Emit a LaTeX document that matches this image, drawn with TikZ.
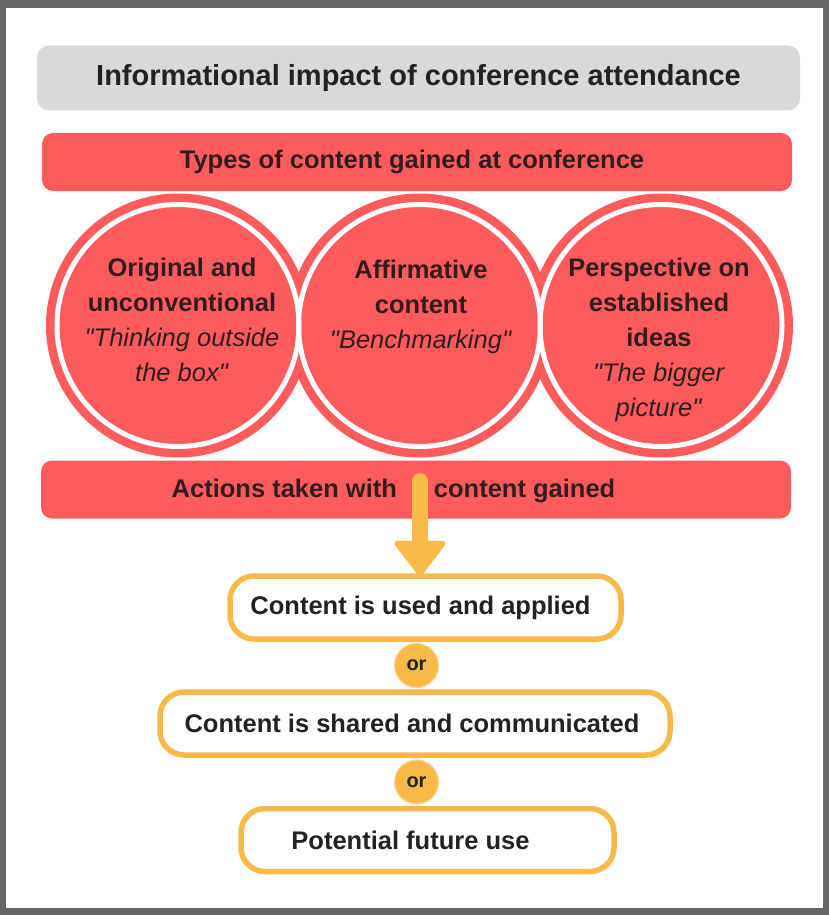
\documentclass[tikz,border=0pt]{standalone}
\usepackage{fontspec}
% keep the straight double quotes
\setmainfont{Liberation Sans}[Ligatures=TeXOff]
\usetikzlibrary{arrows.meta,positioning}
\definecolor{framegray}{RGB}{102,102,102}
\definecolor{titlegray}{RGB}{217,217,217}
\definecolor{mainred}{RGB}{254,92,92}
\definecolor{deepbrown}{RGB}{50,28,28}
\definecolor{softink}{RGB}{34,34,34}
\definecolor{mainamber}{RGB}{249,185,72}
\definecolor{softamber}{RGB}{252,214,150}
\tikzset{
  titlebar/.style={fill=titlegray,rounded corners=12pt,minimum width=763pt,minimum height=65pt,
    inner sep=0pt,text=softink,font=\fontsize{29}{34}\selectfont\bfseries},
  redbar/.style={fill=mainred,rounded corners=11pt,minimum width=750pt,minimum height=58pt,inner sep=0pt},
  bartext/.style={inner sep=0pt,text=deepbrown,font=\fontsize{25.5}{30}\selectfont\bfseries},
  topic/.style={circle,fill=mainred,minimum size=264pt,inner sep=0pt},
  topicring/.style={draw=white,line width=5pt},
  topictext/.style={anchor=north,align=center,inner sep=0pt,text=deepbrown,font=\fontsize{25.5}{35}\selectfont},
  action/.style={draw=mainamber,line width=5.5pt,fill=white,rounded corners=24pt,minimum height=63pt,
    inner sep=0pt,text=softink,font=\fontsize{25.5}{30}\selectfont\bfseries},
  orbadge/.style={circle,fill=mainamber,draw=softamber,line width=1.2pt,minimum size=44pt,inner sep=0pt,
    text=softink,font=\fontsize{20}{24}\selectfont\bfseries},
  flowarrow/.style={-{Triangle[length=37pt,width=55pt,round,line width=5pt]},line width=16pt,
    draw=mainamber,line cap=round}
}

\begin{document}
\begin{tikzpicture}[x=1pt,y=-1pt]
  % frame
  \fill[framegray] (0,0) rectangle (829,915);
  \fill[white] (6,8) rectangle (823,908);

  \node[titlebar] (title) at (418.5,78) {Informational impact of conference attendance};

  % the three kinds of content
  \node[topic] (orig) at (178,325.5) {};
  \node[topic] (affirm) at (419.5,325.5) {};
  \node[topic] (persp) at (661,325.5) {};
  \foreach \c in {orig,affirm,persp}
    \draw[topicring] (\c.center) circle[radius=121];
  \node[topictext] (origtext) at (182,258) {\textbf{Original and}\\\textbf{unconventional}\\
    \textit{"Thinking outside}\\\textit{the box"}};
  \node[topictext] (affirmtext) at (421,260) {\textbf{Affirmative}\\\textbf{content}\\\textit{"Benchmarking"}};
  \node[topictext] (persptext) at (659,258) {\textbf{Perspective on}\\\textbf{established}\\\textbf{ideas}\\
    \textit{"The bigger}\\\textit{picture"}};

  \node[redbar,bartext] (types) at (417,162) {Types of content gained at conference\kern10pt};
  \node[redbar] (actions) at (416,489.5) {};
  \node[bartext] (actionstext) at (393.5,491) {Actions taken with\hspace{37pt}content gained};

  % what is done with it
  \node[action,minimum width=391pt] (used) at (425.5,607.5) {Content is used and applied\kern10pt};
  \node[orbadge] (or1) at (416.5,665.5) {or};
  \node[action,minimum width=510pt] (shared) at (415,723.5) {Content is shared and communicated\kern6pt};
  \node[orbadge] (or2) at (416.5,782) {or};
  \node[action,minimum width=373pt] (future) at (427.5,840) {Potential future use\kern34pt};

  \coordinate (drop) at (420,481);
  \draw[flowarrow] (drop) -- ([yshift=-3pt]drop |- used.north);
\end{tikzpicture}
\end{document}
